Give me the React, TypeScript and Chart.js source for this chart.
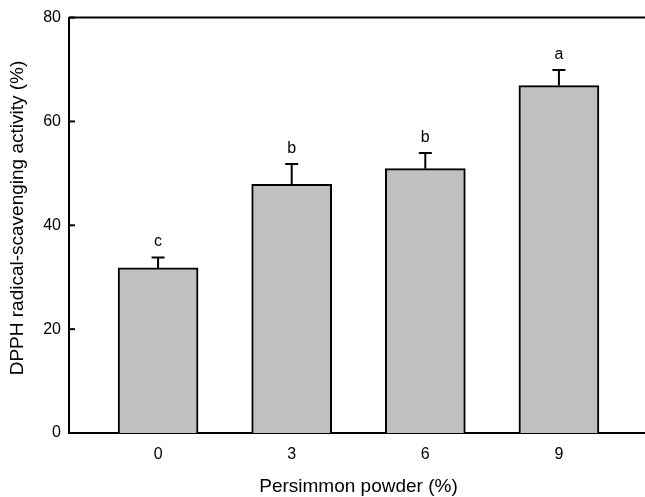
import React, { useEffect, useRef } from "react";
import { Chart, registerables } from "chart.js";

Chart.register(...registerables);

const categories = [0, 3, 6, 9];
const means = [31.8, 47.9, 50.9, 66.9];
const errors = [2.0, 3.9, 3.0, 3.0];
const letters = ["c", "b", "b", "a"];
const yTicks = [0, 20, 40, 60, 80];
const xTitle = "Persimmon powder (%)";
const yTitle = "DPPH radical-scavenging activity (%)";

const FONT = "'Liberation Sans', Arial, sans-serif";

const overlay = {
  id: "overlay",
  afterDraw(chart: any) {
    const ctx = chart.ctx;
    const xs = chart.scales.x;
    const ys = chart.scales.y;
    const area = chart.chartArea;
    ctx.save();
    ctx.strokeStyle = "#000";
    ctx.lineWidth = 2;
    // top border
    ctx.beginPath();
    ctx.moveTo(area.left, area.top);
    ctx.lineTo(area.right, area.top);
    ctx.stroke();
    // inward y ticks
    yTicks.forEach((t) => {
      const py = ys.getPixelForValue(t);
      ctx.beginPath();
      ctx.moveTo(area.left, py);
      ctx.lineTo(area.left + 6, py);
      ctx.stroke();
    });
    // error bars
    ctx.lineWidth = 2;
    categories.forEach((c, i) => {
      const px = xs.getPixelForValue(c);
      const top = ys.getPixelForValue(means[i]);
      const cap = ys.getPixelForValue(means[i] + errors[i]);
      ctx.beginPath();
      ctx.moveTo(px, top);
      ctx.lineTo(px, cap);
      ctx.moveTo(px - 6.5, cap);
      ctx.lineTo(px + 6.5, cap);
      ctx.stroke();
      ctx.fillStyle = "#000";
      ctx.font = `16px ${FONT}`;
      ctx.textAlign = "center";
      ctx.textBaseline = "alphabetic";
      ctx.fillText(letters[i], px, cap - 11.5);
    });
    // titles
    ctx.fillStyle = "#000";
    ctx.font = `19px ${FONT}`;
    ctx.textAlign = "center";
    ctx.textBaseline = "middle";
    ctx.fillText(xTitle, (area.left + area.right) / 2, 487);
    ctx.save();
    ctx.translate(18, 218);
    ctx.rotate(-Math.PI / 2);
    ctx.fillText(yTitle, 0, 0);
    ctx.restore();
    ctx.restore();
  },
};

export default function App() {
  const ref = useRef<HTMLCanvasElement>(null);
  useEffect(() => {
    if (!ref.current) return;
    const chart = new Chart(ref.current, {
      type: "bar",
      data: {
        datasets: [
          {
            data: categories.map((c, i) => ({ x: c, y: means[i] })),
            backgroundColor: "#c0c0c0",
            borderColor: "#000",
            borderWidth: 2,
            barThickness: 80,
          },
        ],
      },
      options: {
        responsive: false,
        animation: false,
        layout: { padding: { left: 0, right: 52, top: 15, bottom: 0 } },
        plugins: { legend: { display: false }, tooltip: { enabled: false } },
        scales: {
          x: {
            type: "linear",
            min: -2,
            max: 11,
            offset: false,
            afterBuildTicks: (scale: any) => {
              scale.ticks = categories.map((v) => ({ value: v }));
            },
            afterFit: (scale: any) => {
              scale.height = 64;
            },
            grid: { display: false, drawTicks: false, offset: false },
            border: { display: true, color: "#000", width: 2 },
            ticks: {
              color: "#000",
              font: { family: FONT, size: 16 },
              padding: 12,
              maxRotation: 0,
              autoSkip: false,
            },
          },
          y: {
            min: 0,
            max: 80,
            afterBuildTicks: (scale: any) => {
              scale.ticks = yTicks.map((v) => ({ value: v }));
            },
            afterFit: (scale: any) => {
              scale.width = 69;
            },
            grid: { display: false, drawTicks: false },
            border: { display: true, color: "#000", width: 2 },
            ticks: {
              color: "#000",
              font: { family: FONT, size: 16 },
              padding: 8,
            },
          },
        },
      },
      plugins: [overlay],
    });
    return () => chart.destroy();
  }, []);
  return (
    <div
      style={{
        position: "fixed",
        left: 0,
        top: 0,
        width: 645,
        height: 497,
        overflow: "hidden",
        background: "#fff",
      }}
    >
      <canvas ref={ref} width={700} height={497} style={{ width: 700, height: 497 }} />
    </div>
  );
}
